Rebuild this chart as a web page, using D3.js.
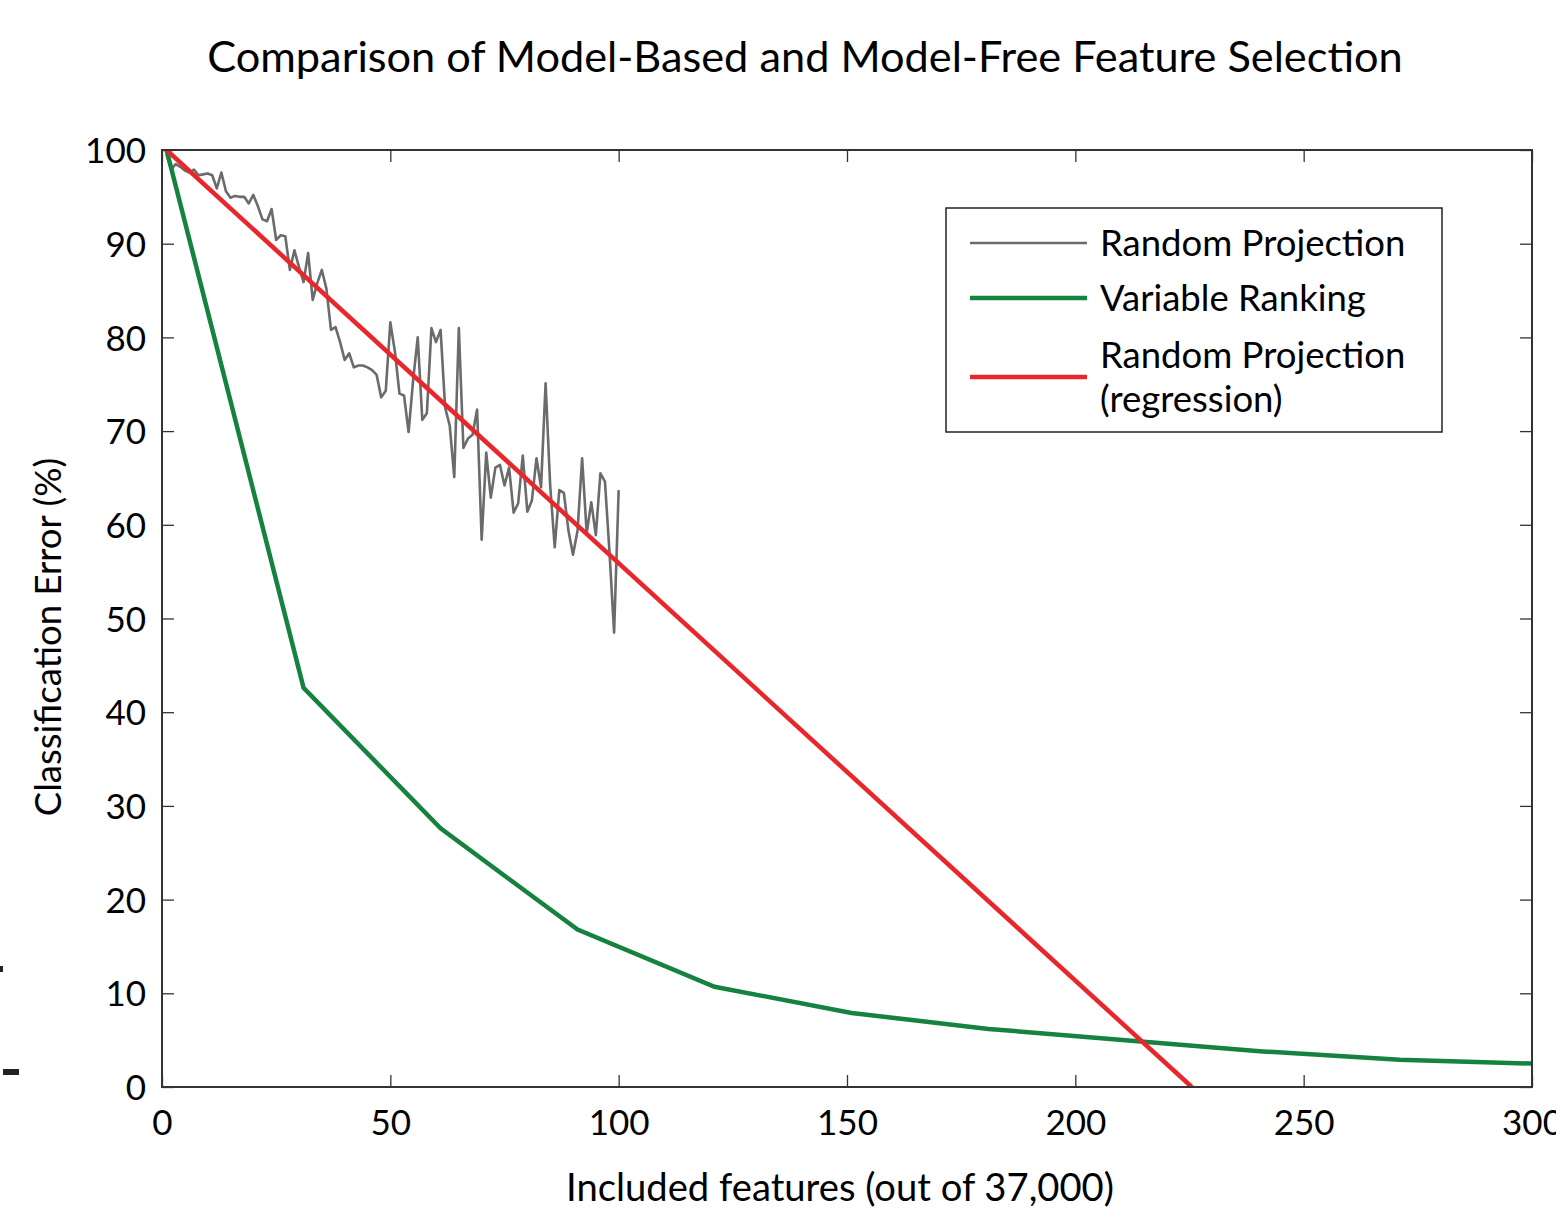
<!DOCTYPE html>
<html>
<head>
<meta charset="utf-8">
<script src="https://cdn.jsdelivr.net/npm/d3@7"></script>
<style>
  body { margin: 0; background: #fff; }
  text { font-family: Lato, "Open Sans", sans-serif; fill: #000; }
</style>
</head>
<body>
<div id="chart"></div>
<script>
// chart data
var rpX = d3.range(1, 101);
var rpY = [
    99.5, 97.9, 98.5, 98.2, 97.8, 97.6, 97.9, 97.3, 97.4, 97.5,
    97.3, 95.9, 97.6, 95.6, 94.9, 95.1, 95.0, 95.0, 94.3, 95.2,
    94.0, 92.6, 92.4, 93.7, 90.4, 90.9, 90.8, 87.2, 89.3, 87.5,
    85.9, 89.0, 84.0, 85.8, 87.2, 85.2, 80.8, 81.1, 79.5, 77.6,
    78.3, 76.8, 77.0, 77.0, 76.8, 76.5, 76.0, 73.6, 74.3, 81.6,
    78.5, 74.0, 73.8, 69.9, 75.5, 80.0, 71.2, 71.9, 81.0, 79.5,
    80.8, 72.5, 70.6, 65.1, 81.0, 68.2, 69.2, 69.6, 72.3, 58.4,
    67.7, 62.9, 66.1, 66.4, 64.2, 66.1, 61.3, 62.3, 67.4, 61.4,
    62.6, 67.1, 64.0, 75.1, 64.2, 57.6, 63.7, 63.4, 59.4, 56.8,
    59.4, 67.1, 59.1, 62.4, 58.9, 65.5, 64.6, 57.0, 48.5, 63.7
];
var vrX = [1, 31, 61, 91, 121, 151, 181, 211, 241, 271, 300];
var vrY = [100, 42.6, 27.6, 16.8, 10.7, 7.9, 6.2, 5.0, 3.8, 2.9, 2.5];
var regX = [1, 225.5];
var regY = [100, 0];

var xTicks = [0, 50, 100, 150, 200, 250, 300];
var yTicks = [0, 10, 20, 30, 40, 50, 60, 70, 80, 90, 100];
var legendLabels = [['Random Projection'], ['Variable Ranking'], ['Random Projection', '(regression)']];
var colors = ['#6b6b6b', '#15823f', '#e8262b'];

var svgWidth = 1556;
var svgHeight = 1209;
var margin = {top: 150, left: 162, right: 24, bottom: 122};
var width = svgWidth - margin.left - margin.right;
var height = svgHeight - margin.top - margin.bottom;

var svg = d3.select('#chart').append('svg')
    .attr('width', svgWidth)
    .attr('height', svgHeight);

var g = svg.append('g')
    .attr('transform', `translate(${margin.left}, ${margin.top})`);

var x = d3.scaleLinear().domain([0, 300]).range([0, width]);
var y = d3.scaleLinear().domain([0, 100]).range([height, 0]);

g.append('clipPath').attr('id', 'clip')
    .append('rect').attr('width', width).attr('height', height);

// axes with inward ticks, mirrored on top/right
var tick = 12;
var bottomAx = g.append('g').attr('transform', `translate(0, ${height})`)
    .call(d3.axisBottom(x).tickValues(xTicks).tickSizeInner(-tick).tickSizeOuter(0).tickPadding(23));
var leftAx = g.append('g')
    .call(d3.axisLeft(y).tickValues(yTicks).tickSizeInner(-tick).tickSizeOuter(0).tickPadding(16));
var topAx = g.append('g')
    .call(d3.axisTop(x).tickValues(xTicks).tickSizeInner(-tick).tickSizeOuter(0).tickFormat(''));
var rightAx = g.append('g').attr('transform', `translate(${width}, 0)`)
    .call(d3.axisRight(y).tickValues(yTicks).tickSizeInner(-tick).tickSizeOuter(0).tickFormat(''));

[bottomAx, leftAx, topAx, rightAx].forEach(function(a) {
    a.select('.domain').remove();
    a.selectAll('line').attr('stroke', '#333').attr('stroke-width', 1.3);
    a.selectAll('text').style('font-size', '35px').attr('fill', '#000');
});
leftAx.selectAll('text').attr('dy', '0.36em');
bottomAx.selectAll('text').attr('dy', '0.72em');

var lines = g.append('g').attr('clip-path', 'url(#clip)');
var line = d3.line().x(d => x(d[0])).y(d => y(d[1]));

lines.append('path')
    .datum(d3.zip(rpX, rpY))
    .attr('fill', 'none')
    .attr('stroke', colors[0])
    .attr('stroke-width', 2.6)
    .attr('stroke-linejoin', 'round')
    .attr('d', line);

lines.append('path')
    .datum(d3.zip(vrX, vrY))
    .attr('fill', 'none')
    .attr('stroke', colors[1])
    .attr('stroke-width', 4.5)
    .attr('d', line);

lines.append('path')
    .datum(d3.zip(regX, regY))
    .attr('fill', 'none')
    .attr('stroke', colors[2])
    .attr('stroke-width', 4.5)
    .attr('d', line);

// frame
g.append('rect')
    .attr('width', width).attr('height', height)
    .attr('fill', 'none').attr('stroke', '#333').attr('stroke-width', 2);

// legend
var legend = svg.append('g').attr('transform', 'translate(946, 208)');
legend.append('rect')
    .attr('width', 496).attr('height', 224)
    .attr('fill', '#fff').attr('stroke', '#222').attr('stroke-width', 1.5);
var rowY = [35, 90, 169];
var lineW = [2.6, 4.5, 4.5];
legendLabels.forEach(function(lab, i) {
    legend.append('line')
        .attr('x1', 24).attr('x2', 141)
        .attr('y1', rowY[i]).attr('y2', rowY[i])
        .attr('stroke', colors[i]).attr('stroke-width', lineW[i]);
    var ty = lab.length > 1 ? rowY[i] - 22 : rowY[i];
    lab.forEach(function(t, j) {
        legend.append('text')
            .attr('x', 154)
            .attr('y', ty + j * 44)
            .attr('dy', '0.35em')
            .style('font-size', '36.5px')
            .text(t);
    });
});

// titles
svg.append('text')
    .attr('x', 805).attr('y', 57)
    .attr('text-anchor', 'middle').attr('dy', '0.35em')
    .style('font-size', '43.3px')
    .text('Comparison of Model-Based and Model-Free Feature Selection');

svg.append('text')
    .attr('x', 840).attr('y', 1188)
    .attr('text-anchor', 'middle').attr('dy', '0.35em')
    .style('font-size', '38.2px')
    .text('Included features (out of 37,000)');

svg.append('text')
    .attr('transform', 'translate(48, 637) rotate(-90)')
    .attr('text-anchor', 'middle').attr('dy', '0.35em')
    .style('font-size', '36.5px')
    .text('Classification Error (%)');

// stray marks at the left edge of the scan
svg.append('rect').attr('x', 0).attr('y', 966).attr('width', 3).attr('height', 6).attr('fill', '#222');
svg.append('rect').attr('x', 3).attr('y', 1069).attr('width', 16).attr('height', 6).attr('fill', '#222');
</script>
</body>
</html>
